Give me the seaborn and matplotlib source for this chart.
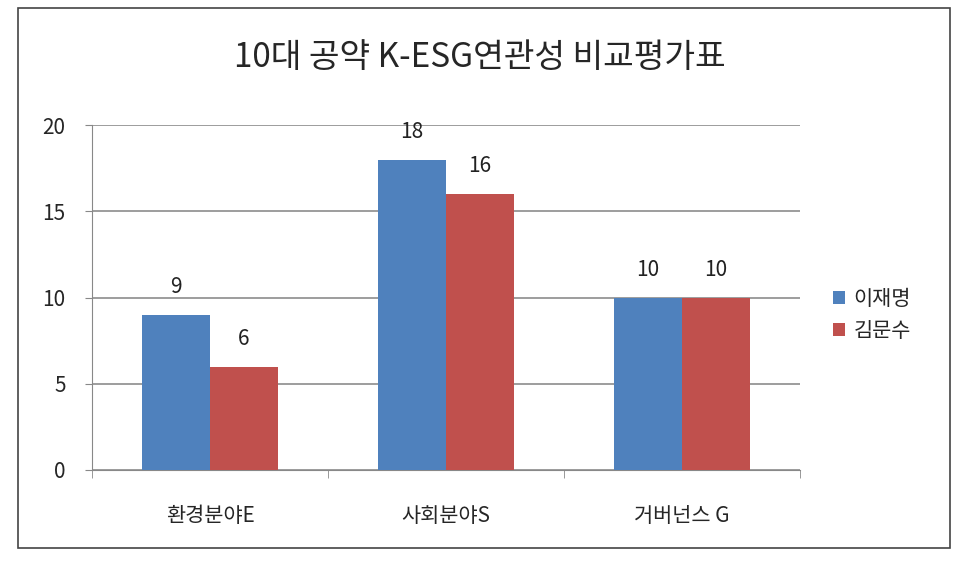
import matplotlib
matplotlib.use("Agg")
import matplotlib.pyplot as plt
import seaborn as sns
import pandas as pd
from matplotlib.patches import Rectangle

categories = ["환경분야E", "사회분야S", "거버넌스 G"]
series = ["이재명", "김문수"]
lee = [9, 18, 10]
kim = [6, 16, 10]
yticks = [0, 5, 10, 15, 20]

sns.set_style("white")
plt.rcParams['font.family'] = ['Noto Sans CJK KR', 'DejaVu Sans']

df = pd.DataFrame({
    "cat": categories * 2,
    "who": [series[0]] * 3 + [series[1]] * 3,
    "val": lee + kim,
})

fig = plt.figure(figsize=(9.6, 5.62), dpi=100)
fig.patches.append(Rectangle((18/960, 1-548/562), 932/960, 540/562, transform=fig.transFigure,
                             fill=False, edgecolor="#444444", lw=1.2))
ax = fig.add_axes([92/960, 1-470/562, 708/960, 345/562])
palette = {"이재명": "#4F81BD", "김문수": "#C0504D"}
sns.barplot(data=df, x="cat", y="val", hue="who", palette=palette, width=0.576,
            saturation=1, ax=ax, zorder=3, linewidth=0, edgecolor="none")
for c in ax.containers:
    ax.bar_label(c, labels=[f"{v:g}" for v in c.datavalues], padding=12, fontsize=15, color="#222222")
ax.set_ylim(0, 20)
ax.set_xlim(-0.5, 2.5)
ax.set_yticks(yticks)
ax.yaxis.grid(True, color="#8c8c8c", lw=1.2, zorder=0)
ax.tick_params(axis="y", labelsize=15, left=True, length=5, color="#888888", pad=14)
ax.tick_params(axis="x", labelsize=15, bottom=False, pad=22)
ax.set_xticks([-0.5, 0.5, 1.5, 2.5], minor=True)
ax.tick_params(axis="x", which="minor", bottom=True, length=6, color="#888888")
ax.set_xlabel(""); ax.set_ylabel("")
for s in ["top", "right"]:
    ax.spines[s].set_visible(False)
ax.spines["left"].set_color("#888888")
ax.spines["bottom"].set_color("#888888")
leg = ax.legend(loc="center left", bbox_to_anchor=(1.02, 0.45), frameon=False, fontsize=15,
                handlelength=0.6, handleheight=0.6, handletextpad=0.4, labelspacing=0.5)
fig.text(480/960, 1-58/562, "10대 공약 K-ESG연관성 비교평가표", ha="center", va="center", fontsize=24)
fig.savefig("out.png", dpi=100)
